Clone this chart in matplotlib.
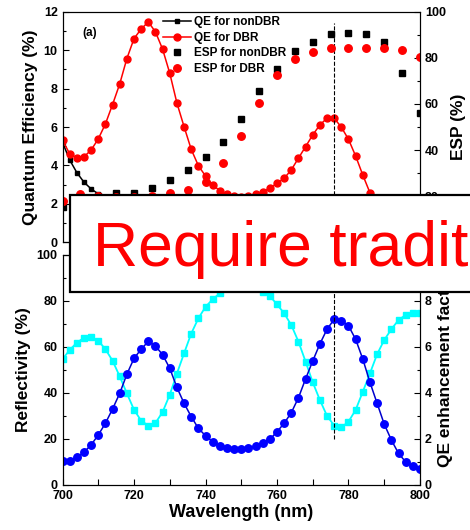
import matplotlib
matplotlib.use("Agg")
import matplotlib.pyplot as plt
from matplotlib.patches import Rectangle
from matplotlib.ticker import MultipleLocator

plt.rcParams["font.family"] = ["Liberation Sans", "DejaVu Sans"]
plt.rcParams["font.weight"] = "bold"

# wavelength grids (nm)
wl = list(range(700, 801, 2))
wl_esp = list(range(700, 801, 5))

# top panel: quantum efficiency (%), every 2 nm
qe_nondbr = [5.2, 4.29, 3.63, 3.13, 2.78, 2.52, 2.31, 2.2, 2.08, 2.0,
             1.93, 1.88, 1.84, 1.8, 1.77, 1.74, 1.71, 1.68, 1.66, 1.64,
             1.63, 1.61, 1.59, 1.57, 1.55, 1.53, 1.5, 1.47, 1.43, 1.38,
             1.33, 1.27, 1.21, 1.16, 1.09, 1.04, 0.99, 0.94, 0.9, 0.84,
             0.78, 0.71, 0.64, 0.58, 0.55, 0.52, 0.5, 0.48, 0.46, 0.44,
             0.42]
qe_dbr = [5.33, 4.6, 4.4, 4.45, 4.8, 5.38, 6.16, 7.17, 8.24, 9.56,
          10.6, 11.1, 11.47, 10.95, 10.05, 8.8, 7.25, 6.02, 4.84, 3.99,
          3.45, 2.98, 2.69, 2.5, 2.42, 2.38, 2.42, 2.52, 2.64, 2.81,
          3.07, 3.33, 3.77, 4.38, 4.98, 5.59, 6.11, 6.46, 6.46, 5.99,
          5.36, 4.49, 3.5, 2.58, 1.95, 1.37, 0.97, 0.65, 0.46, 0.36,
          0.29]

# top panel: ESP (%), every 5 nm
esp_nondbr = [15.4, 18.0, 20.0, 21.2, 21.5, 23.7, 27.0, 31.4, 37.0, 43.6,
              53.4, 65.6, 75.2, 83.1, 87.0, 90.2, 90.9, 90.2, 87.0, 73.3,
              56.2]
esp_dbr = [17.8, 20.8, 20.0, 19.5, 19.5, 20.2, 21.3, 22.7, 26.3, 34.5,
           46.1, 60.3, 72.6, 79.4, 82.7, 84.2, 84.2, 84.2, 84.2, 83.4,
           80.5]

# bottom panel: DBR reflectivity (%) and QE enhancement factor
reflectivity = [54.5, 58.6, 61.7, 63.9, 64.2, 62.6, 58.9, 53.9, 47.1, 39.7,
                32.6, 27.8, 25.7, 26.8, 31.6, 39.1, 48.3, 57.1, 65.7, 72.3,
                77.3, 80.6, 83.2, 85.3, 86.6, 87.2, 87.0, 85.8, 83.8, 82.0,
                78.4, 74.5, 69.4, 62.2, 53.5, 44.5, 36.8, 29.9, 25.7, 24.9,
                27.4, 32.5, 40.4, 48.4, 56.7, 62.9, 67.6, 71.6, 73.8, 74.5,
                74.5]
enhancement = [1.02, 1.03, 1.19, 1.41, 1.73, 2.16, 2.67, 3.29, 3.97, 4.80,
               5.49, 5.89, 6.23, 6.03, 5.65, 5.06, 4.23, 3.54, 2.96, 2.45,
               2.13, 1.87, 1.70, 1.58, 1.54, 1.54, 1.58, 1.68, 1.83, 1.97,
               2.30, 2.67, 3.13, 3.78, 4.60, 5.38, 6.12, 6.76, 7.19, 7.13,
               6.91, 6.32, 5.46, 4.45, 3.54, 2.63, 1.94, 1.36, 0.99, 0.81,
               0.68]

# right-axis tick labels (the ones under the banner are left out)
esp_ticks = [20, 40, 60, 80, 100]
enh_ticks = [0, 2, 4, 6, 8]

peak_wl = 776

fig = plt.figure(figsize=(4.7, 5.3), dpi=100)
ax1 = fig.add_axes([0.133, 0.5428, 0.7606, 0.4351])
ax2 = fig.add_axes([0.133, 0.0855, 0.7606, 0.434])
ax1r = ax1.twinx()
ax2r = ax2.twinx()

TICK = 9
LABEL = 12.5


def style(ax, major, minor):
    ax.yaxis.set_major_locator(MultipleLocator(major))
    ax.yaxis.set_minor_locator(MultipleLocator(minor))
    ax.tick_params(axis="both", which="both", direction="in", labelsize=TICK, width=0.8)
    ax.tick_params(which="major", length=4)
    ax.tick_params(which="minor", length=2.5)
    for s in ax.spines.values():
        s.set_linewidth(0.8)


# --- top panel
l1, = ax1.plot(wl, qe_nondbr, color="black", marker="s", ms=3.2, lw=1.1,
               label="QE for nonDBR")
l2, = ax1.plot(wl, qe_dbr, color="red", marker="o", ms=5, lw=1.1,
               label="QE for DBR")
ax1.axvline(peak_wl, ymin=0, ymax=0.95, color="black", ls="--", lw=0.8)
ax1.set_xlim(700, 800)
ax1.set_ylim(0, 12)
ax1.set_ylabel("Quantum Efficiency (%)", fontsize=LABEL, fontweight="bold", labelpad=4)
ax1.set_xticks([])
style(ax1, 2, 1)
ax1.text(0.055, 0.907, "(a)", transform=ax1.transAxes, fontsize=8.5,
         fontweight="bold", va="center")

s1, = ax1r.plot(wl_esp, esp_nondbr, ls="none", color="black", marker="s", ms=5,
                label="ESP for nonDBR")
s2, = ax1r.plot(wl_esp, esp_dbr, ls="none", color="red", marker="o", ms=5.4,
                label="ESP for DBR")
ax1r.set_ylim(0, 100)
ax1r.set_ylabel("ESP (%)", fontsize=LABEL, fontweight="bold", labelpad=4)
style(ax1r, 20, 10)
ax1r.set_yticks(esp_ticks)

ax1r.legend(handles=[l1, l2, s1, s2], loc="upper left",
            bbox_to_anchor=(0.281, 0.981), frameon=False, fontsize=8.5,
            borderpad=0, borderaxespad=0, handlelength=2.4,
            handletextpad=0.25, labelspacing=0.3)

# --- bottom panel
ax2.plot(wl, reflectivity, color="#00ffff", marker="s", ms=4.3, lw=1.3)
ax2.set_xlim(700, 800)
ax2.set_ylim(0, 100)
ax2.set_ylabel("Reflectivity (%)", fontsize=LABEL, fontweight="bold", labelpad=4)
ax2.set_xlabel("Wavelength (nm)", fontsize=13, fontweight="bold", labelpad=2)
ax2.xaxis.set_major_locator(MultipleLocator(20))
ax2.xaxis.set_minor_locator(MultipleLocator(10))
style(ax2, 20, 10)
ax2.tick_params(axis="x", which="minor", length=4)

ax2r.plot(wl, enhancement, color="#0000cc", marker="o", ms=5.4, mfc="#0000ff",
          mec="#0000ff", lw=1.1)
ax2r.axvline(peak_wl, ymin=0.2, ymax=1.0, color="black", ls="--", lw=0.8)
ax2r.set_ylim(0, 10)
ax2r.set_ylabel("QE enhancement factor", fontsize=LABEL, fontweight="bold", labelpad=4)
style(ax2r, 2, 1)
ax2r.set_yticks(enh_ticks)

# overlay banner covering the middle of the figure
fig.add_artist(Rectangle((70 / 470, 1 - 292 / 530), 1.0, 97 / 530,
                         transform=fig.transFigure, facecolor="white",
                         edgecolor="black", lw=1.6, zorder=10))
fig.text(93 / 470, 1 - 266 / 530, "Require tradit", color="red",
         fontsize=45, fontweight="normal", va="baseline", ha="left", zorder=11)

fig.savefig("out.png", dpi=100)
